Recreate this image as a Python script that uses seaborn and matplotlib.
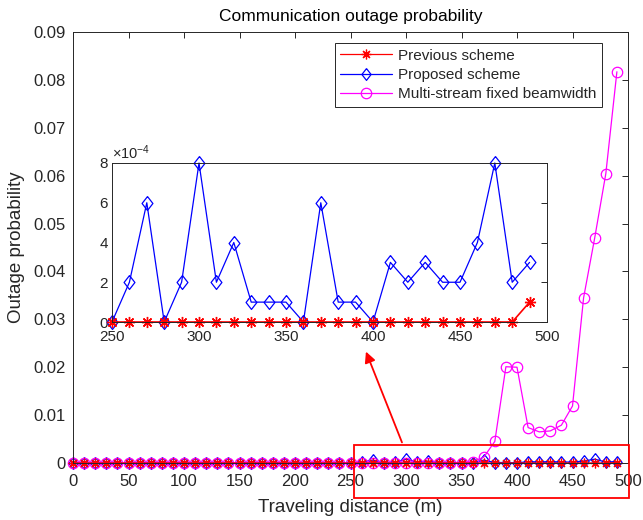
import numpy as np
import pandas as pd
import matplotlib
matplotlib.use("Agg")
import matplotlib.pyplot as plt
import seaborn as sns
from matplotlib.patches import Rectangle
from matplotlib.ticker import ScalarFormatter

# ---------------- data ----------------
distance = list(range(0, 500, 10))  # 0..490

previous_scheme = [0.0] * 49 + [1e-4]

proposed_tail = [0, 2, 6, 0, 2, 8, 2, 4, 1, 1, 1, 0, 6, 1, 1, 0, 3, 2, 3, 2, 2, 4, 8, 2, 3]  # x1e-4, 250..490
proposed_scheme = [0.0] * 25 + [v * 1e-4 for v in proposed_tail]

multi_stream = ([0.0] * 35 +
                [0.0001, 0.0003, 0.0012, 0.0045, 0.0201, 0.0200, 0.0074, 0.0065,
                 0.0067, 0.0079, 0.0119, 0.0345, 0.0470, 0.0604, 0.0817])

series_names = ["Previous scheme", "Proposed scheme", "Multi-stream fixed beamwidth"]
main_xticks = list(range(0, 501, 50))
main_yticks = [0, 0.01, 0.02, 0.03, 0.04, 0.05, 0.06, 0.07, 0.08, 0.09]
main_yticklabels = ["0", "0.01", "0.02", "0.03", "0.04", "0.05", "0.06", "0.07", "0.08", "0.09"]
inset_xticks = list(range(250, 501, 50))
inset_yticks = [0, 2e-4, 4e-4, 6e-4, 8e-4]

df = pd.DataFrame({"distance": distance,
                   "previous": previous_scheme,
                   "proposed": proposed_scheme,
                   "multi": multi_stream})
inset_df = df[df["distance"] >= 250]

# ---------------- style ----------------
sns.set_style("white")
plt.rcParams["font.family"] = ["Liberation Sans", "DejaVu Sans"]
plt.rcParams["mathtext.fontset"] = "custom"
plt.rcParams["mathtext.rm"] = "Liberation Sans"
axis_gray = "#262626"

asterisk = (8, 2, 0)
diamond = [(0, 1), (0.78, 0), (0, -1), (-0.78, 0), (0, 1)]

fig = plt.figure(figsize=(6.43, 5.2), dpi=100)
ax = fig.add_axes([73 / 643, 1 - 463 / 520, 555 / 643, 431 / 520])

styles = [
    ("previous", "red", asterisk, "red", 7, 2.3),
    ("proposed", "blue", diamond, "none", 8.5, 2.0),
    ("multi", "magenta", "o", "none", 7.5, 2.1),
]
for (col, color, mk, fc, ms, z), name in zip(styles, series_names):
    sns.lineplot(data=df, x="distance", y=col, ax=ax, color=color, marker=mk,
                 markersize=ms, markerfacecolor=fc, markeredgecolor=color,
                 markeredgewidth=0.9, linewidth=0.9, label=name, clip_on=False, zorder=z)

ax.set_xlim(0, 500)
ax.set_ylim(0, 0.09)
ax.set_xticks(main_xticks)
ax.set_yticks(main_yticks)
ax.set_yticklabels(main_yticklabels)
ax.tick_params(direction="in", top=True, right=True, length=4, width=0.7,
               labelsize=12, colors=axis_gray, labelcolor=axis_gray)
ax.tick_params(axis="x", pad=8)
ax.tick_params(axis="y", pad=5)
for s in ax.spines.values():
    s.set_color(axis_gray)
    s.set_linewidth(0.7)
ax.set_xlabel("Traveling distance (m)", fontsize=13.5, color=axis_gray, labelpad=7)
ax.set_ylabel("Outage probability", fontsize=13.5, color=axis_gray, labelpad=6)
ax.set_title("Communication outage probability", fontsize=12.5, color="black", pad=8)

leg = ax.legend(loc="upper right", bbox_to_anchor=(0.953, 0.974), fontsize=11,
                frameon=True, fancybox=False, edgecolor=axis_gray, framealpha=1,
                handlelength=3.4, borderpad=0.35, labelspacing=0.35, handletextpad=0.4,
                borderaxespad=0)
leg.get_frame().set_linewidth(0.7)

# red zoom box and arrow
ax.add_patch(Rectangle((253.2, -0.0073), 248.0, 0.0111, fill=False, edgecolor="red",
                       linewidth=1.3, clip_on=False, zorder=5))
ax.annotate("", xy=(263.0, 0.0238), xytext=(297.3, 0.00376),
            arrowprops=dict(arrowstyle="-|>", color="red", lw=1.3, mutation_scale=16),
            annotation_clip=False, zorder=5)

# ---------------- inset ----------------
iax = fig.add_axes([112 / 643, 1 - 322 / 520, 435 / 643, 159 / 520])
iax.set_facecolor("white")
sns.lineplot(data=inset_df, x="distance", y="proposed", ax=iax, color="blue", marker=diamond,
             markersize=10, markerfacecolor="none", markeredgecolor="blue",
             markeredgewidth=0.9, linewidth=0.9, clip_on=False)
sns.lineplot(data=inset_df, x="distance", y="previous", ax=iax, color="red", marker=asterisk,
             markersize=8, markerfacecolor="red", markeredgecolor="red",
             markeredgewidth=1.0, linewidth=1.2, clip_on=False)
iax.set_xlim(250, 500)
iax.set_ylim(0, 8e-4)
iax.set_xticks(inset_xticks)
iax.set_yticks(inset_yticks)
fmt = ScalarFormatter(useMathText=True)
fmt.set_powerlimits((-3, 3))
iax.yaxis.set_major_formatter(fmt)
iax.yaxis.get_offset_text().set_fontsize(10.5)
iax.yaxis.get_offset_text().set_color(axis_gray)
iax.set_xlabel("")
iax.set_ylabel("")
iax.tick_params(direction="in", top=False, right=True, length=4, width=0.7,
                labelsize=11, colors=axis_gray, labelcolor=axis_gray)
iax.tick_params(axis="x", pad=6)
iax.tick_params(axis="y", pad=2)
for s in iax.spines.values():
    s.set_color(axis_gray)
    s.set_linewidth(0.7)

fig.savefig("out.png", dpi=100)
